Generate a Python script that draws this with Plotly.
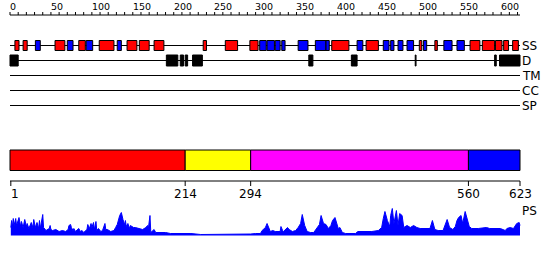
import plotly.graph_objects as go

# ---------------- data ----------------
seq_len = 623
ruler_labels = [0, 50, 100, 150, 200, 250, 300, 350, 400, 450, 500, 550, 600]
ruler_minor = list(range(0, 621, 10))

# secondary structure elements (H = helix, E = strand)
ss_start = [7, 17, 32, 56, 71, 85, 94, 110, 132, 144, 159, 177, 237, 264, 294,
            306, 315, 325, 333, 353, 374, 387, 394, 425, 436, 457, 466, 475, 486,
            501, 506, 520, 531, 547, 563, 578, 594, 604, 615]
ss_end = [11, 21, 37, 67, 77, 92, 101, 127, 136, 155, 170, 188, 240, 278, 303,
          313, 323, 330, 336, 364, 386, 390, 414, 431, 450, 463, 469, 480, 493,
          503, 509, 522, 540, 555, 574, 592, 601, 609, 621]
ss_kind = ["H", "H", "E", "H", "E", "H", "E", "H", "E", "H", "H", "H", "H", "H", "H",
           "E", "E", "E", "E", "E", "E", "E", "H", "E", "H", "E", "E", "E", "E",
           "H", "E", "H", "E", "E", "H", "H", "H", "H", "H"]

# disordered regions
dis_start = [1, 192, 209, 215, 224, 366, 418, 421, 496, 593, 599]
dis_end = [10, 205, 212, 217, 235, 370, 420, 424, 496, 594, 623]

track_names = ["SS", "D", "TM", "CC", "SP"]

# domain bar
dom_start = [1, 214, 294, 560]
dom_end = [214, 294, 560, 623]
pos_labels = [1, 214, 294, 560, 623]

# PS profile (residue, score)
ps_pos = [1, 2, 3, 4, 5, 7, 8, 11, 13, 14, 16, 18, 20, 21, 23, 26, 28, 29, 31, 33,
          35, 36, 37, 40, 41, 42, 44, 48, 49, 50, 52, 56, 60, 64, 68, 71, 72, 74, 75, 77,
          78, 80, 84, 86, 88, 90, 94, 95, 97, 99, 100, 102, 103, 105, 106, 108, 111, 113, 116, 117,
          119, 123, 127, 129, 131, 134, 136, 138, 140, 141, 142, 144, 146, 147, 151, 153, 158, 162, 166, 168,
          169, 171, 172, 173, 176, 178, 180, 184, 190, 196, 202, 208, 214, 221, 233, 245, 257, 269, 282, 288,
          294, 300, 306, 308, 312, 314, 316, 318, 321, 324, 330, 331, 333, 334, 339, 341, 345, 349, 352, 355,
          357, 360, 363, 367, 371, 375, 378, 380, 383, 386, 389, 392, 394, 397, 399, 401, 403, 406, 410, 416,
          422, 425, 434, 442, 450, 454, 456, 458, 461, 462, 464, 465, 467, 469, 472, 474, 476, 479, 481, 485,
          489, 493, 497, 501, 507, 513, 516, 519, 523, 529, 534, 537, 541, 544, 546, 548, 551, 553, 556, 558,
          561, 564, 568, 572, 582, 586, 599, 605, 607, 611, 615, 619, 622, 623]
ps_val = [8, 15, 9, 17, 10, 17, 10, 18, 9, 14, 8, 16, 9, 12, 7, 13, 8, 16, 8, 13,
          7, 15, 7, 21, 8, 7, 5, 7, 10, 6, 5, 6, 4, 5, 4, 6, 10, 11, 8, 5,
          7, 4, 7, 4, 5, 3, 6, 11, 7, 12, 8, 13, 6, 14, 5, 7, 4, 5, 12, 6,
          6, 4, 5, 8, 11, 20, 23, 16, 11, 15, 9, 12, 7, 10, 8, 8, 7, 6, 8, 10,
          7, 20, 3, 4, 6, 3, 3, 3, 3, 2, 2, 2, 2, 2, 1, 1, 1, 1, 1, 1.5,
          1.5, 2, 2, 5, 8, 12, 7, 4, 5, 4, 4, 9, 5, 4, 8, 6, 4, 5, 8, 12,
          21, 10, 4, 3, 3, 8, 11, 20, 12, 11, 7, 10, 15, 18, 13, 7, 8, 3, 2, 2,
          2, 4, 4, 4, 5, 8, 17, 24, 15, 13, 9, 20, 27, 12, 25, 10, 22, 20, 8, 10,
          8, 10, 8, 7, 7, 7, 15, 6, 5, 5, 16, 8, 6, 9, 15, 18, 20, 12, 24, 18,
          9, 7, 7, 7, 8, 7, 7, 5, 7, 8, 7, 12, 13, 10]

# ---------------- layout / style ----------------
FONT = "DejaVu Sans"
Y_RULER = 15
Y_TRACK = {"SS": 45.5, "D": 60.5, "TM": 75.5, "CC": 90.5, "SP": 105.5}
SS_HALF = 5
D_HALF = 5.5
BAR_TOP, BAR_BOT = 150, 170.5
Y_RULER2 = 181
SS_COLOR = {"H": "#FF0000", "E": "#0000FF"}
DOM_COLOR = ["#FF0000", "#FFFF00", "#FF00FF", "#0000FF"]

shapes = []
ann = []


def line(x0, y0, x1, y1, color="black", w=1):
    shapes.append(dict(type="line", xref="x", yref="y", x0=x0, y0=y0, x1=x1, y1=y1,
                       line=dict(color=color, width=w)))


def rect(x0, y0, x1, y1, fill, w=1):
    shapes.append(dict(type="rect", xref="x", yref="y", x0=x0, y0=y0, x1=x1, y1=y1,
                       fillcolor=fill, line=dict(color="black", width=w)))


def text(x, y, s, size, xanchor="left", yanchor="middle"):
    ann.append(dict(x=x, y=y, xref="x", yref="y", text=s, showarrow=False,
                    xanchor=xanchor, yanchor=yanchor, borderpad=0,
                    font=dict(family=FONT, size=size, color="black")))


# top ruler
line(0, Y_RULER, seq_len, Y_RULER)
for t in ruler_minor:
    line(t, Y_RULER, t, Y_RULER - 3)
for t in ruler_labels:
    text(t - 1.5, 6.5, str(t), 9.5)

# track baselines and labels
for name in track_names:
    line(0, Y_TRACK[name], seq_len, Y_TRACK[name])
    text(seq_len + 1, Y_TRACK[name], name, 12)

# SS boxes
ys = Y_TRACK["SS"]
for s, e, k in zip(ss_start, ss_end, ss_kind):
    rect(s - 1, ys - SS_HALF, e, ys + SS_HALF, SS_COLOR[k])

# disorder boxes
yd = Y_TRACK["D"]
for s, e in zip(dis_start, dis_end):
    rect(s - 1, yd - D_HALF, e, yd + D_HALF, "black")

# domain bar
for i, (s, e) in enumerate(zip(dom_start, dom_end)):
    rect(s - 1 if i == 0 else s, BAR_TOP, e, BAR_BOT, DOM_COLOR[i])

# bottom ruler
line(0, Y_RULER2, seq_len, Y_RULER2)
for t in pos_labels:
    line(t, Y_RULER2, t, Y_RULER2 + 5)
    if t == 1:
        text(t - 1.5, 194, str(t), 12, xanchor="left")
    else:
        text(t, 194, str(t), 12, xanchor="center")

# PS label
text(seq_len + 1, 211, "PS", 12)

fig = go.Figure()
fig.add_trace(go.Scatter(x=ps_pos, y=ps_val, mode="lines", fill="tozeroy",
                         fillcolor="#0000FF", line=dict(color="#0000FF", width=1),
                         yaxis="y2", hoverinfo="skip", showlegend=False))

x_lo = -10 * seq_len / 510
x_hi = 540 * seq_len / 510
fig.update_layout(
    width=550, height=260,
    margin=dict(l=0, r=0, t=0, b=0),
    paper_bgcolor="white", plot_bgcolor="white",
    showlegend=False,
    shapes=shapes, annotations=ann,
    xaxis=dict(range=[x_lo, x_hi], visible=False, fixedrange=True),
    yaxis=dict(range=[260, 0], visible=False, fixedrange=True),
    yaxis2=dict(range=[-24.5, 235.5], overlaying="y", visible=False, fixedrange=True),
)

fig.write_html("out.html")
